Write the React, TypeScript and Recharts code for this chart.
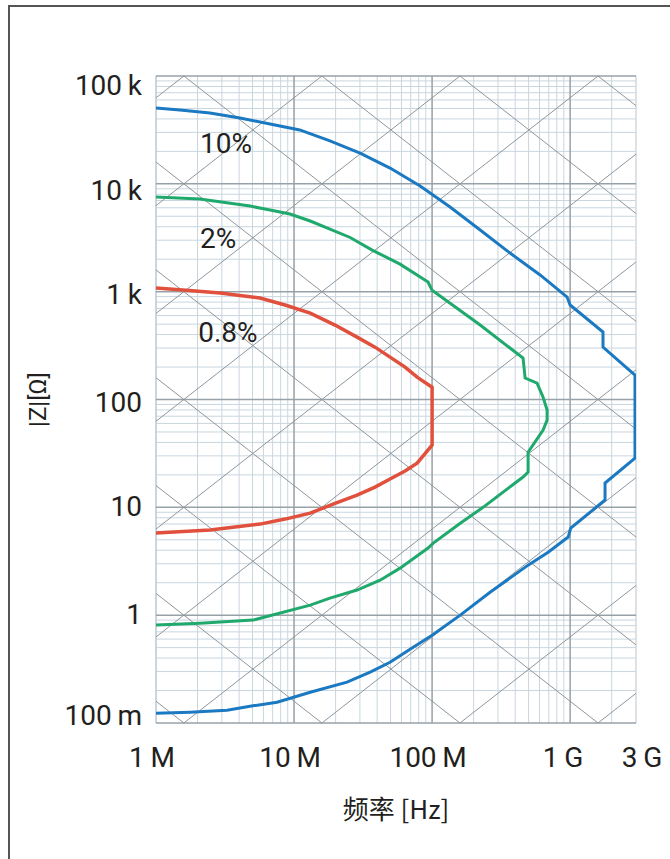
import { LineChart, Line, XAxis, YAxis, ReferenceLine, ReferenceDot } from "recharts"

// axes
const xTicks = [1e6, 1e7, 1e8, 1e9, 3e9]
const xTickLabels = ["1\u2009M", "10\u2009M", "100\u2009M", "1\u2009G", "3\u2009G"]
const yTicks = [0.1, 1, 10, 100, 1e3, 1e4, 1e5]
const yTickLabels = ["100\u2009m", "1", "10", "100", "1\u2009k", "10\u2009k", "100\u2009k"]

// 10% accuracy contour (blue)
const blueF = [1e6, 1.49e6, 2.46e6, 4.06e6, 6.7e6, 11.0e6, 18.2e6, 30.1e6, 49.6e6, 81.9e6, 135e6, 223e6, 367e6, 606e6, 951e6, 1.0e9, 1.73e9, 1.73e9, 2.95e9, 2.95e9, 1.79e9, 1.79e9, 1.01e9, 0.968e9, 693e6, 496e6, 263e6, 160e6, 100e6, 69.3e6, 49.6e6, 35.6e6, 24.2e6, 13.1e6, 7.53e6, 4.8e6, 3.27e6, 1.76e6, 1e6]
const blueZ = [50.5e3, 48.4e3, 45.4e3, 40.8e3, 35.9e3, 31.6e3, 25.0e3, 19.3e3, 14.0e3, 9.54e3, 6.09e3, 3.73e3, 2.28e3, 1.43e3, 891, 752, 422, 306, 168, 28.6, 16.8, 11.7, 6.41, 5.3, 3.84, 2.91, 1.63, 1.0, 0.652, 0.484, 0.366, 0.296, 0.239, 0.193, 0.156, 0.143, 0.1315, 0.126, 0.123]

// 2% accuracy contour (green)
const greenF = [1e6, 2.08e6, 4.8e6, 6.7e6, 9.35e6, 13.1e6, 18.2e6, 25.5e6, 36.8e6, 58.6e6, 93.5e6, 100e6, 223e6, 456e6, 472e6, 576e6, 637e6, 681e6, 681e6, 637e6, 496e6, 496e6, 456e6, 234e6, 160e6, 102e6, 93.5e6, 58.6e6, 42e6, 28.6e6, 18.2e6, 13.1e6, 5.05e6, 2.08e6, 1e6]
const greenZ = [7.54e3, 7.23e3, 6.22e3, 5.71e3, 5.25e3, 4.52e3, 3.81e3, 3.18e3, 2.43e3, 1.8e3, 1.23e3, 1.03e3, 490, 242, 158, 142, 105, 80, 64.4, 52, 32.5, 21.2, 19.1, 10.0, 7.13, 4.66, 4.19, 2.73, 2.11, 1.71, 1.44, 1.24, 0.9, 0.843, 0.81]

// 0.8% accuracy contour (red)
const redF = [1e6, 1.57e6, 2.91e6, 5.67e6, 8.61e6, 13.1e6, 19.8e6, 28.6e6, 38.6e6, 49.6e6, 63.7e6, 77.9e6, 100e6, 100e6, 77.9e6, 63.7e6, 49.6e6, 38.6e6, 28.6e6, 19.8e6, 13.1e6, 8.61e6, 5.67e6, 2.46e6, 1e6]
const redZ = [1080, 1035, 972, 873, 752, 633, 490, 379, 306, 247, 200, 161, 130, 37.8, 25.7, 21.7, 18.3, 15.4, 13.0, 10.9, 8.83, 7.78, 6.99, 6.15, 5.77]

// curve labels
const labelNames = ["10%", "2%", "0.8%"]
const labelF = [2.08e6, 2.08e6, 2.02e6]
const labelZ = [19.3e3, 2.54e3, 340]

// reactance lines of the chart paper
const inductances = [1e-11, 1e-10, 1e-9, 1e-8, 1e-7, 1e-6, 1e-5, 1e-4, 1e-3, 1e-2]
const capacitances = [1e-15, 1e-14, 1e-13, 1e-12, 1e-11, 1e-10, 1e-9, 1e-8, 1e-7, 1e-6]

const F_MIN = 1e6
const F_MAX = 3e9
const Z_MIN = 0.1
const Z_MAX = 1e5

const zip = (f: number[], z: number[]) => f.map((v, i) => ({ f: v, z: z[i] }))

const minorLines = (lo: number, hi: number) => {
  const out: number[] = []
  for (let e = Math.floor(Math.log10(lo)); e <= Math.log10(hi); e++) {
    for (let d = 2; d <= 9; d++) {
      const v = d * Math.pow(10, e)
      if (v > lo && v < hi) out.push(v)
    }
  }
  return out
}

// log Z = s * log f + k, clipped to the plot box
const clipSegment = (s: number, k: number) => {
  const a = Math.log10(F_MIN)
  const b = Math.log10(F_MAX)
  const l1 = (Math.log10(Z_MIN) - k) / s
  const l2 = (Math.log10(Z_MAX) - k) / s
  const lo = Math.max(a, Math.min(l1, l2))
  const hi = Math.min(b, Math.max(l1, l2))
  if (hi <= lo) return null
  return [
    { x: Math.pow(10, lo), y: Math.pow(10, s * lo + k) },
    { x: Math.pow(10, hi), y: Math.pow(10, s * hi + k) },
  ]
}

const diagonals = [
  ...inductances.map((L) => clipSegment(1, Math.log10(2 * Math.PI * L))),
  ...capacitances.map((C) => clipSegment(-1, -Math.log10(2 * Math.PI * C))),
].filter(Boolean) as { x: number; y: number }[][]

const FONT = "Roboto, 'Liberation Sans', sans-serif"
const MINOR = "#c9d6df"
const MAJOR = "#97a1a8"
const DIAG = "#8f969b"

const YTick = (props: any) => {
  const { x, y, payload } = props
  const v = payload.value
  const i = yTicks.indexOf(v)
  const shift = v >= 1e5 ? 9 : v >= 1e4 ? 7 : v >= 100 ? 2.5 : v >= 1 ? -1 : -8
  return (
    <text x={x} y={y + shift} textAnchor="end" dominantBaseline="central" fontSize={28} fontFamily={FONT} fill="#231f20">
      {yTickLabels[i]}
    </text>
  )
}

const XTick = (props: any) => {
  const { x, y, payload } = props
  const v = payload.value
  const i = xTicks.indexOf(v)
  const shift = v >= 3e9 ? 6 : v >= 1e9 ? -7 : -4
  return (
    <text x={x + shift} y={y} textAnchor="middle" dominantBaseline="central" fontSize={28} fontFamily={FONT} fill="#231f20">
      {xTickLabels[i]}
    </text>
  )
}

export default function App() {
  const minorX = minorLines(F_MIN, F_MAX)
  const minorY = minorLines(Z_MIN, Z_MAX)
  return (
    <div style={{ position: "absolute", left: 0, top: 0, width: 670, height: 859, background: "#fff" }}>
      <div style={{ position: "absolute", left: 8, top: 5, right: 0, height: 2, background: "#555" }} />
      <div style={{ position: "absolute", left: 8, top: 5, bottom: 0, width: 2, background: "#555" }} />
      <LineChart width={670} height={859} margin={{ top: 76, right: 34, bottom: 76, left: 0 }}>
        <XAxis
          dataKey="f"
          type="number"
          scale="log"
          domain={[F_MIN, F_MAX]}
          ticks={xTicks}
          interval={0}
          allowDataOverflow
          axisLine={false}
          tickLine={false}
          tickSize={0}
          tickMargin={34}
          height={60}
          tick={<XTick />}
          label={{ value: "频率 [Hz]", position: "bottom", offset: 18, fontSize: 26, fill: "#231f20", fontFamily: "'Noto Sans CJK SC', Roboto, sans-serif" }}
        />
        <YAxis
          dataKey="z"
          type="number"
          scale="log"
          domain={[Z_MIN, Z_MAX]}
          ticks={yTicks}
          interval={0}
          allowDataOverflow
          axisLine={false}
          tickLine={false}
          tickSize={0}
          tickMargin={14}
          width={156}
          tick={<YTick />}
          label={{ value: "|Z|[Ω]", angle: -90, position: "insideLeft", offset: 37, fontSize: 24, fill: "#231f20", fontFamily: FONT, style: { textAnchor: "middle" } }}
        />

        {minorX.map((v) => (
          <ReferenceLine key={"mx" + v} x={v} stroke={MINOR} strokeWidth={1} ifOverflow="visible" />
        ))}
        {minorY.map((v) => (
          <ReferenceLine key={"my" + v} y={v} stroke={MINOR} strokeWidth={1} ifOverflow="visible" />
        ))}
        <ReferenceLine x={F_MIN} stroke="#b9c9d4" strokeWidth={1.5} ifOverflow="visible" />
        <ReferenceLine x={F_MAX} stroke="#d4d9dc" strokeWidth={1.5} ifOverflow="visible" />
        {xTicks.slice(1, 4).map((v) => (
          <ReferenceLine key={"Mx" + v} x={v} stroke={MAJOR} strokeWidth={1.5} ifOverflow="visible" />
        ))}
        {yTicks.map((v) => (
          <ReferenceLine key={"My" + v} y={v} stroke={MAJOR} strokeWidth={1.5} ifOverflow="visible" />
        ))}
        {diagonals.map((seg, i) => (
          <ReferenceLine key={"d" + i} segment={seg} stroke={DIAG} strokeWidth={1} ifOverflow="visible" />
        ))}

        <Line data={zip(blueF, blueZ)} dataKey="z" type="linear" stroke="#1b79c2" strokeWidth={3} dot={false} isAnimationActive={false} />
        <Line data={zip(greenF, greenZ)} dataKey="z" type="linear" stroke="#1fa96c" strokeWidth={3} dot={false} isAnimationActive={false} />
        <Line data={zip(redF, redZ)} dataKey="z" type="linear" stroke="#e0503c" strokeWidth={3.5} dot={false} isAnimationActive={false} />

        {labelNames.map((name, i) => (
          <ReferenceDot
            key={name}
            x={labelF[i]}
            y={labelZ[i]}
            r={0}
            ifOverflow="visible"
            shape={(p: any) => (
              <text x={p.cx} y={p.cy} fontSize={28} fontFamily={FONT} fill="#231f20">
                {name}
              </text>
            )}
          />
        ))}
      </LineChart>
    </div>
  )
}
